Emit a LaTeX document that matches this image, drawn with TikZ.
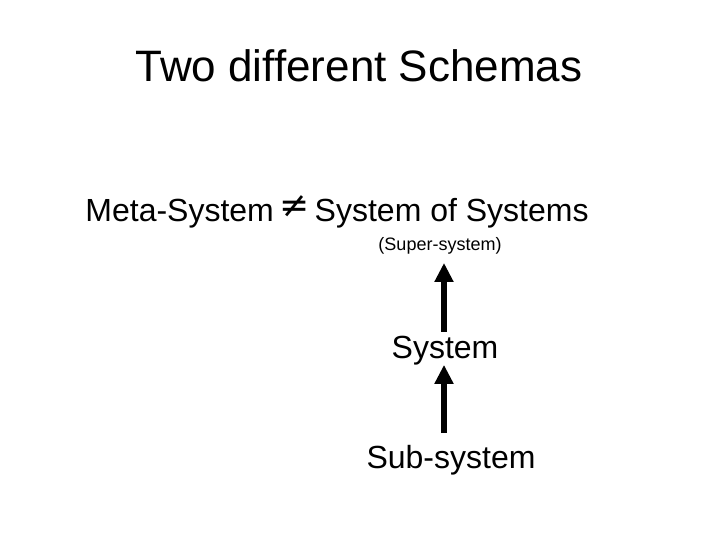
\documentclass[tikz,border=0pt]{standalone}
\usepackage{fontspec}
\setmainfont{Liberation Sans}
\newfontfamily\symfont{DejaVu Sans}
\usepackage{tikz}
\usetikzlibrary{arrows.meta,positioning}

\newcommand{\bigneq}{\raisebox{4pt}{\fontsize{36}{36}\symfont ≠}}

\begin{document}
\begin{tikzpicture}[x=1pt,y=-1pt,>={Triangle[length=19pt,width=18pt]},
    every node/.style={inner sep=0pt,anchor=base},
    levelarrow/.style={->,line width=5.5pt}]
  \useasboundingbox (0,0) rectangle (720,540);
  \node[font=\fontsize{44}{48}\selectfont] (title) at (359,82) {Two different Schemas};
  \node[font=\fontsize{32}{36}\selectfont] (compare) at (337,222) {Meta-System\,\bigneq\,System of Systems};
  \node[font=\fontsize{18}{20}\selectfont] (super) at (440,251) {(Super-system)};
  \node[font=\fontsize{32}{36}\selectfont] (sys) at (445,358) {System};
  \node[font=\fontsize{32}{36}\selectfont] (sub) at (451,468) {Sub-system};
  \coordinate (axis) at (444,0);
  % hierarchy arrows
  \draw[levelarrow,shorten <=3.6pt,shorten >=8pt] (sys.north -| axis) -- (super.south -| axis);
  \draw[levelarrow,shorten <=11.6pt] (sub.north -| axis) -- (sys.south -| axis);
\end{tikzpicture}
\end{document}
